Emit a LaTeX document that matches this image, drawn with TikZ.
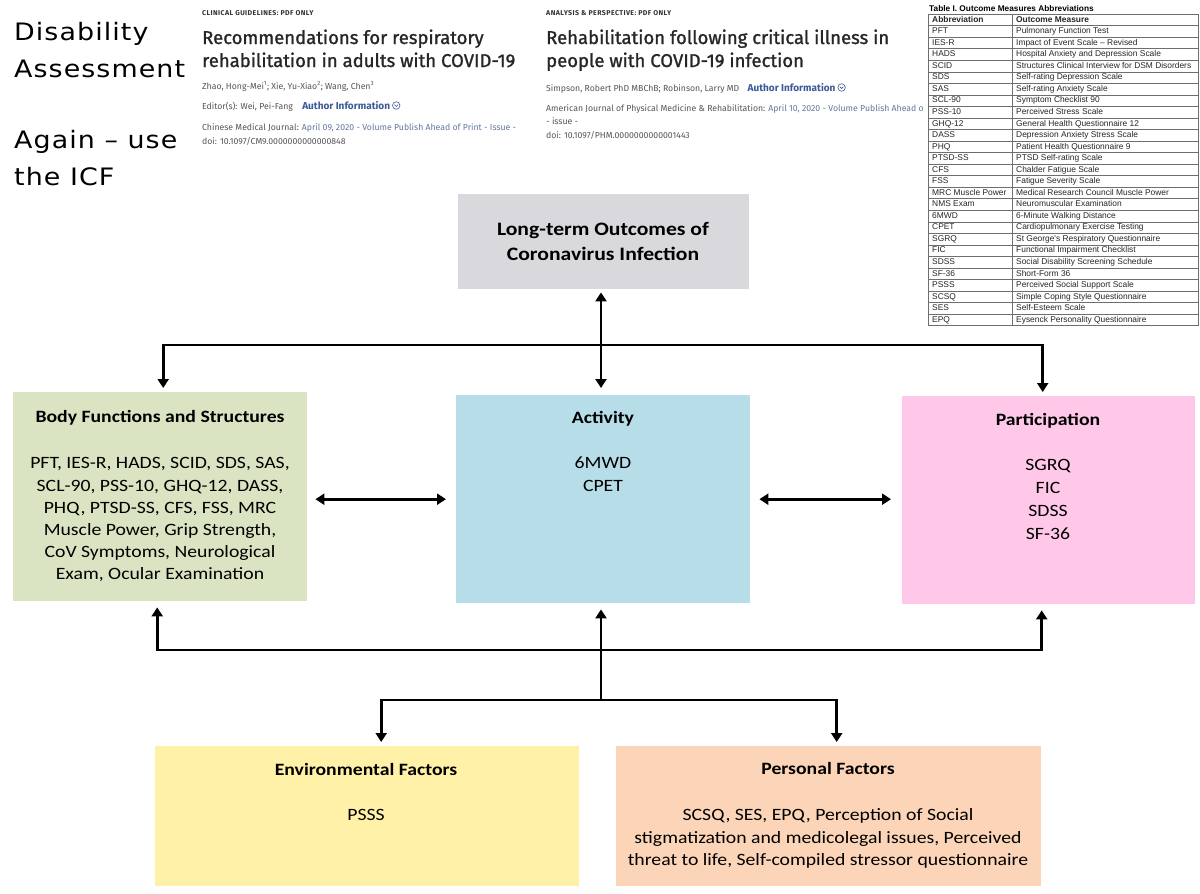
\documentclass[tikz,border=0pt]{standalone}
\usepackage{fontspec}
\setmainfont{Carlito}
\newfontfamily\headfont[LetterSpace=4]{DejaVu Sans}
\newfontfamily\webfont{Fira Sans}
\newfontfamily\webtitle[FakeBold=1.2]{Fira Sans}
\newfontfamily\webcap[LetterSpace=6]{Fira Sans}
\newfontfamily\tabfont{Liberation Sans}
\usetikzlibrary{arrows.meta}

\definecolor{topgray}{RGB}{217,216,220}
\definecolor{bodygreen}{RGB}{218,228,194}
\definecolor{actblue}{RGB}{183,221,232}
\definecolor{partpink}{RGB}{255,200,232}
\definecolor{envyellow}{RGB}{255,242,168}
\definecolor{perspeach}{RGB}{252,213,184}
\definecolor{linkblue}{RGB}{60,90,150}
\definecolor{metagray}{RGB}{85,85,85}
\definecolor{datablue}{RGB}{100,118,160}
\definecolor{tabgray}{RGB}{110,110,110}

% panel captions are set a little wide
\newcommand\widelines[1]{\scalebox{1.14}[1]{\begin{tabular}{@{}c@{}}#1\end{tabular}}}
\newcommand\wideword[1]{\scalebox{1.12}[1]{#1}}

\tikzset{
  panel/.style={draw=none, inner sep=0pt, anchor=north west},
  paneltext/.style={anchor=north, inner sep=0pt,
    font=\fontsize{17.3}{22.2}\selectfont},
  link/.style={line width=2.6pt, -{Triangle[length=9pt,width=11pt]}},
  bilink/.style={line width=2.6pt, {Triangle[length=9pt,width=11pt]}-{Triangle[length=9pt,width=11pt]}},
  plainlink/.style={line width=2.6pt},
  webline/.style={anchor=base west, inner sep=0pt, text=metagray,
    font=\webfont\fontsize{8.7}{11}\selectfont},
  webhead/.style={anchor=base west, inner sep=0pt, text=black!85,
    font=\webtitle\fontsize{18.5}{23}\selectfont},
  webkind/.style={anchor=base west, inner sep=0pt, text=black!80,
    font=\webcap\bfseries\fontsize{7}{9}\selectfont},
  authinfo/.style={anchor=base west, inner sep=0pt, text=linkblue,
    font=\webfont\bfseries\fontsize{10}{12}\selectfont},
  infoicon/.style={circle, draw=linkblue, line width=0.6pt, inner sep=0pt, minimum size=7.5pt},
  tabcell/.style={anchor=west, inner sep=0pt, text height=6pt, text depth=1.6pt, text=black!85,
    font=\tabfont\fontsize{8.4}{10}\selectfont},
  tabrule/.style={draw=tabgray, line width=0.8pt},
  heading/.style={anchor=base west, inner sep=0pt, font=\headfont\fontsize{24}{30}\selectfont}
}

\begin{document}
\begin{tikzpicture}[x=1pt,y=-1pt]
\useasboundingbox[fill=white] (0,0) rectangle (1200,894);

% ---- slide heading ----
\node[heading] (h1) at (14,40) {\wideword{Disability}};
\node[heading] (h2) at (14,77) {\wideword{Assessment}};
\node[heading] (h3) at (14,148) {\wideword{Again – use}};
\node[heading] (h4) at (14,185) {\wideword{the ICF}};

% ---- first article ----
\node[webkind] (k1) at (202,15) {CLINICAL GUIDELINES: PDF ONLY};
\node[webhead] (t1a) at (202,44) {Recommendations for respiratory};
\node[webhead] (t1b) at (202,67) {rehabilitation in adults with COVID-19};
\node[webline] (a1) at (202,89) {Zhao, Hong-Mei\textsuperscript{1}; Xie, Yu-Xiao\textsuperscript{2}; Wang, Chen\textsuperscript{3}};
\node[webline] (e1) at (202,109) {Editor(s): Wei, Pei-Fang};
\node[authinfo] (ai1) at ([xshift=9pt]e1.base east) {Author Information};
\node[infoicon] (ic1) at ([xshift=6pt,yshift=3.5pt]ai1.base east) {};
\draw[linkblue, line width=0.6pt] ([xshift=-1.8pt,yshift=0.8pt]ic1.center) -- ([yshift=-1pt]ic1.center) -- ([xshift=1.8pt,yshift=0.8pt]ic1.center);
\node[webline] (j1) at (202,130) {Chinese Medical Journal: \textcolor{datablue}{April 09, 2020 - Volume Publish Ahead of Print - Issue -}};
\node[webline] (d1) at (202,144) {doi: 10.1097/CM9.0000000000000848};

% ---- second article ----
\node[webkind] (k2) at (546,15) {ANALYSIS \& PERSPECTIVE: PDF ONLY};
\node[webhead] (t2a) at (546,44) {Rehabilitation following critical illness in};
\node[webhead] (t2b) at (546,67) {people with COVID-19 infection};
\node[webline] (a2) at (546,91) {Simpson, Robert PhD MBChB; Robinson, Larry MD};
\node[authinfo] (ai2) at ([xshift=8pt]a2.base east) {Author Information};
\node[infoicon] (ic2) at ([xshift=6pt,yshift=3.5pt]ai2.base east) {};
\draw[linkblue, line width=0.6pt] ([xshift=-1.8pt,yshift=0.8pt]ic2.center) -- ([yshift=-1pt]ic2.center) -- ([xshift=1.8pt,yshift=0.8pt]ic2.center);
\node[webline] (j2) at (546,111) {American Journal of Physical Medicine \& Rehabilitation: \textcolor{datablue}{April 10, 2020 - Volume Publish Ahead o}};
\node[webline] (s2) at (546,124) {- issue -};
\node[webline] (d2) at (546,138) {doi: 10.1097/PHM.0000000000001443};

% ---- abbreviation table (header + 26 rows) ----
\fill[white] (926,13) rectangle (1200,328);
\node[anchor=base west, inner sep=0pt, font=\tabfont\bfseries\fontsize{8.3}{10}\selectfont] (tabtitle) at (929,11) {Table I. Outcome Measures Abbreviations};
\foreach \k in {0,...,27}
  \draw[tabrule] (928,{14.2+\k*11.54}) -- (1198,{14.2+\k*11.54});
\draw[tabrule] (928,14.2) -- (928,325.8);
\draw[tabrule] (1012,14.2) -- (1012,325.8);
\draw[tabrule] (1198,14.2) -- (1198,325.8);
\node[tabcell, font=\tabfont\bfseries\fontsize{8.4}{10}\selectfont] (ab1) at (932,19.97) {Abbreviation};
\node[tabcell, font=\tabfont\bfseries\fontsize{8.4}{10}\selectfont] (me1) at (1016,19.97) {Outcome Measure};
\foreach \a/\m [count=\i from 2] in {
  PFT/Pulmonary Function Test,
  IES-R/Impact of Event Scale – Revised,
  HADS/Hospital Anxiety and Depression Scale,
  SCID/Structures Clinical Interview for DSM Disorders,
  SDS/Self-rating Depression Scale,
  SAS/Self-rating Anxiety Scale,
  SCL-90/Symptom Checklist 90,
  PSS-10/Perceived Stress Scale,
  GHQ-12/General Health Questionnaire 12,
  DASS/Depression Anxiety Stress Scale,
  PHQ/Patient Health Questionnaire 9,
  PTSD-SS/PTSD Self-rating Scale,
  CFS/Chalder Fatigue Scale,
  FSS/Fatigue Severity Scale,
  MRC Muscle Power/Medical Research Council Muscle Power,
  NMS Exam/Neuromuscular Examination,
  6MWD/6-Minute Walking Distance,
  CPET/Cardiopulmonary Exercise Testing,
  SGRQ/St George's Respiratory Questionnaire,
  FIC/Functional Impairment Checklist,
  SDSS/Social Disability Screening Schedule,
  SF-36/Short-Form 36,
  PSSS/Perceived Social Support Scale,
  SCSQ/Simple Coping Style Questionnaire,
  SES/Self-Esteem Scale,
  EPQ/Eysenck Personality Questionnaire}
{
  \node[tabcell] (ab\i) at (932,{14.2+(\i-0.5)*11.54}) {\a};
  \node[tabcell] (me\i) at (1016,{14.2+(\i-0.5)*11.54}) {\m};
}

% ---- ICF panels ----
\node[panel, fill=topgray, minimum width=291pt, minimum height=95pt] (top) at (458,194) {};
\node[panel, fill=bodygreen, minimum width=294pt, minimum height=209pt] (body) at (13,392) {};
\node[panel, fill=actblue, minimum width=294pt, minimum height=208pt] (act) at (456,395) {};
\node[panel, fill=partpink, minimum width=293pt, minimum height=208pt] (part) at (902,396) {};
\node[panel, fill=envyellow, minimum width=424pt, minimum height=140pt] (env) at (155,746) {};
\node[panel, fill=perspeach, minimum width=425pt, minimum height=140pt] (pers) at (616,746) {};

\node[paneltext, font=\bfseries\fontsize{19}{25}\selectfont] (topt) at (603,217.5)
  {\widelines{Long-term Outcomes of\\Coronavirus Infection}};
\node[paneltext] (bodyt) at (160,407) {\widelines{\textbf{Body Functions and Structures}\\[24pt]
  PFT, IES-R, HADS, SCID, SDS, SAS,\\SCL-90, PSS-10, GHQ-12, DASS,\\PHQ, PTSD-SS, CFS, FSS, MRC\\
  Muscle Power, Grip Strength,\\CoV Symptoms, Neurological\\Exam, Ocular Examination}};
\node[paneltext] (actt) at (603,408) {\widelines{\textbf{Activity}\\[23pt]6MWD\\CPET}};
\node[paneltext] (partt) at (1048,410) {\widelines{\textbf{Participation}\\[23pt]SGRQ\\[0.5pt]FIC\\[0.5pt]SDSS\\[0.5pt]SF-36}};
\node[paneltext] (envt) at (366,760) {\widelines{\textbf{Environmental Factors}\\[23pt]PSSS}};
\node[paneltext] (perst) at (828,759) {\widelines{\textbf{Personal Factors}\\[24pt]
  SCSQ, SES, EPQ, Perception of Social\\stigmatization and medicolegal issues, Perceived\\threat to life, Self-compiled stressor questionnaire}};

% ---- connectors ----
\coordinate (jt) at (601,345);
\coordinate (jb) at (601,650);
\coordinate (jf) at (601,700);
\draw[bilink, shorten <=3pt, shorten >=7pt] (jt |- top.south) -- (jt |- act.north);
\draw[link, shorten >=4pt] (jt) -| ([xshift=3pt]body.north);
\draw[link, shorten >=4pt] (jt) -| ([xshift=-6pt]part.north);
\draw[bilink, shorten <=8pt, shorten >=10pt] (body.east |- act.west) -- (act.west);
\draw[bilink, shorten <=9pt, shorten >=11pt] (act.east) -- (part.west |- act.east);
\draw[link, shorten >=6pt] (jb) -| ([xshift=-3pt]body.south);
\draw[link, shorten >=6pt] (jb) -| ([xshift=-7pt]part.south);
\draw[link, shorten >=6pt] (jb) -- (jb |- act.south);
\draw[plainlink] (jb) -- (jf);
\draw[link, shorten >=4pt] (jf) -| ([xshift=14pt]env.north);
\draw[link, shorten >=4pt] (jf) -| ([xshift=8pt]pers.north);
\end{tikzpicture}
\end{document}
